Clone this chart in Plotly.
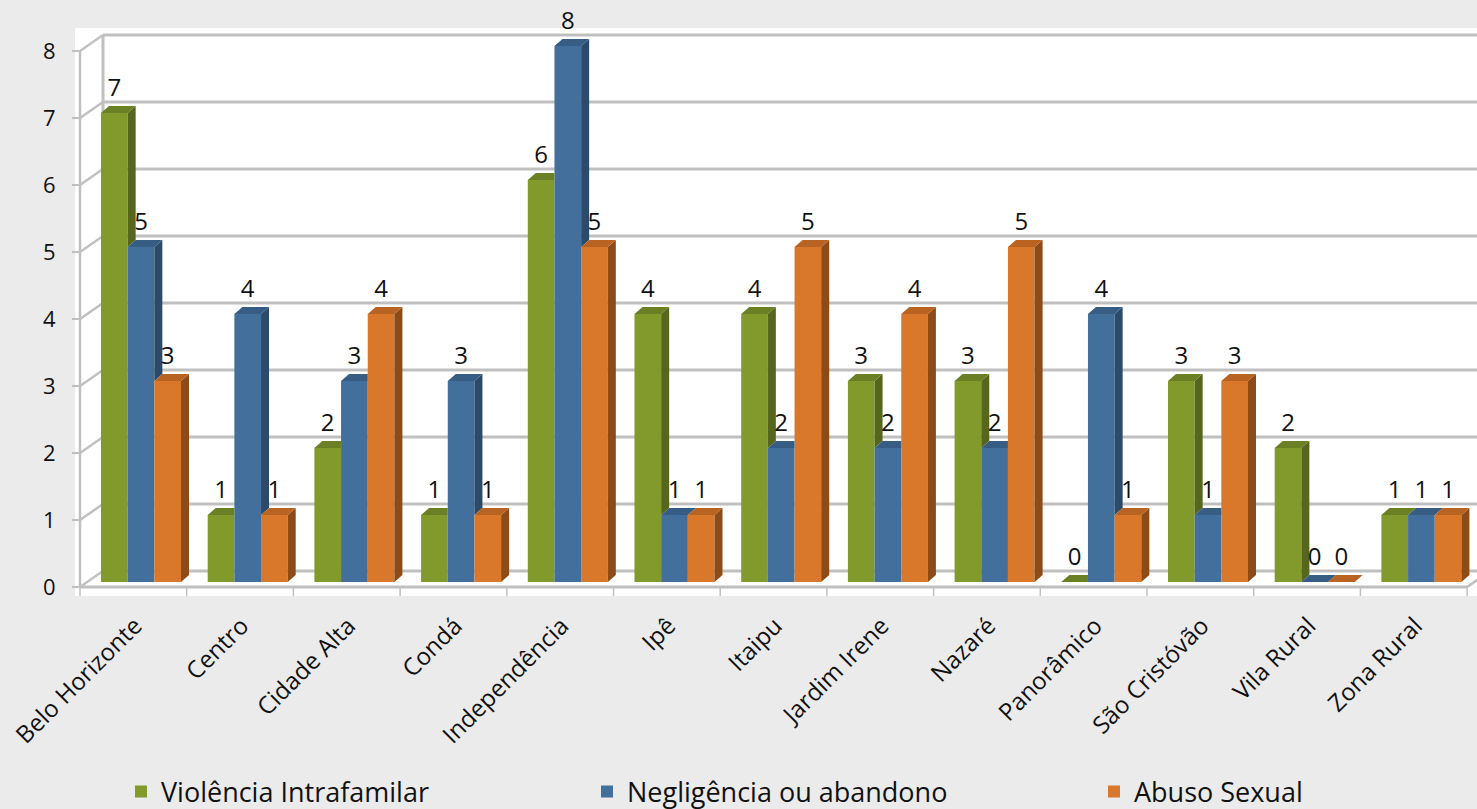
import plotly.graph_objects as go

# ---------------- data ----------------
categories = ["Belo Horizonte", "Centro", "Cidade Alta", "Condá", "Independência", "Ipê",
              "Itaipu", "Jardim Irene", "Nazaré", "Panorâmico", "São Cristóvão",
              "Vila Rural", "Zona Rural"]
violencia = [7, 1, 2, 1, 6, 4, 4, 3, 3, 0, 3, 2, 1]
negligencia = [5, 4, 3, 3, 8, 1, 2, 2, 2, 4, 1, 0, 1]
abuso = [3, 1, 4, 1, 5, 1, 5, 4, 5, 1, 3, 0, 1]
series_names = ["Violência Intrafamilar", "Negligência ou abandono", "Abuso Sexual"]
y_ticks = [0, 1, 2, 3, 4, 5, 6, 7, 8]

# ---------------- styling ----------------
front_colors = ["#829a2c", "#426f9c", "#d9782a"]
top_colors = ["#6b7f24", "#375d85", "#b86322"]
side_colors = ["#56661d", "#2c4a6a", "#8d4b18"]
FONT = "Open Sans"
FRAME = "#c0c0c0"
PAPER = "#ebebeb"

FIG_W, FIG_H = 1477, 809
ML, MR, MT, MB = 75, 0, 28, 213
PLOT_W = FIG_W - ML - MR
PLOT_H = FIG_H - MT - MB
PX_X, X0_PX = 106.7, 141.0   # pixels per category, pixel of first category (bar plane)
PX_Y, Y0_PX = 67.0, 582.0     # pixels per unit, pixel of value 0 (bar plane)
xr = [(ML - X0_PX) / PX_X, (FIG_W - MR - X0_PX) / PX_X]
yr = [-(MT + PLOT_H - Y0_PX) / PX_Y, (Y0_PX - MT) / PX_Y]

BW = 0.25
offsets = [-0.375, -0.125, 0.125]
DX, DY = 8 / PX_X, 7 / PX_Y           # bar depth
FX, FY = -61 / PX_X, -5 / PX_Y         # front plane offset
BX, BY = -38 / PX_X, 11 / PX_Y         # back wall offset
LABEL_SHIFT = -6 / PX_X                # category labels anchored on the front axis

series = [violencia, negligencia, abuso]
x_idx = list(range(len(categories)))

fig = go.Figure()

# front faces (real bars)
legends = ["legend", "legend2", "legend3"]
for s, vals in enumerate(series):
    fig.add_trace(go.Bar(
        x=x_idx, y=vals, width=BW, offset=offsets[s], name=series_names[s],
        marker=dict(color=front_colors[s], line=dict(width=0)),
        legend=legends[s], hovertemplate="%{y}<extra>" + series_names[s] + "</extra>",
    ))

# top and side faces derived from the same values
for s, vals in enumerate(series):
    nxt_vals = series[s + 1] if s < len(series) - 1 else None
    tx, ty, sx, sy = [], [], [], []
    for i, v in enumerate(vals):
        xl = i + offsets[s]
        xrr = xl + BW
        nxt = nxt_vals[i] if nxt_vals is not None else None
        if nxt is not None and nxt > v:
            tx += [xl, xrr, xrr, xl + DX, xl, None]
        else:
            tx += [xl, xrr, xrr + DX, xl + DX, xl, None]
        ty += [v, v, v + DY, v + DY, v, None]
        lo = 0 if nxt is None else nxt
        if v > lo:
            sx += [xrr, xrr, xrr + DX, xrr + DX, xrr, None]
            sy += [lo, v, v + DY, lo + DY, lo, None]
    fig.add_trace(go.Scatter(x=sx, y=sy, mode="lines", fill="toself", fillcolor=side_colors[s],
                             line=dict(width=0), showlegend=False, hoverinfo="skip"))
    fig.add_trace(go.Scatter(x=tx, y=ty, mode="lines", fill="toself", fillcolor=top_colors[s],
                             line=dict(width=0), showlegend=False, hoverinfo="skip"))

# data labels
for s, vals in enumerate(series):
    fig.add_trace(go.Scatter(
        x=[i + offsets[s] + BW / 2 for i in x_idx], y=[v + 0.17 for v in vals],
        text=[str(v) for v in vals], mode="text", textposition="top center",
        textfont=dict(family=FONT, size=24, color="#111111"),
        showlegend=False, hoverinfo="skip", cliponaxis=False))

# dummy trace to carry the front value axis
fig.add_trace(go.Scatter(x=[0], y=[0], yaxis="y2", mode="markers", marker=dict(opacity=0),
                         showlegend=False, hoverinfo="skip"))

# ---------------- 3D frame (walls, gridlines) ----------------
shapes = []
def ln(x0, y0, x1, y1, w=2.5):
    shapes.append(dict(type="line", xref="x", yref="y", x0=x0, y0=y0, x1=x1, y1=y1,
                       line=dict(color=FRAME, width=w), layer="below"))

ymax = max(y_ticks)
for v in y_ticks:
    ln(BX, v + BY, xr[1] + 1, v + BY, 3)
    ln(FX, v + FY, BX, v + BY)
ln(BX, BY, BX, ymax + BY, 3)
ln(FX, FY, FX, ymax + FY)
n = len(categories)
ln(FX, FY, FX + n, FY, 3)
ln(FX + n, FY, FX + n + (BX - FX), BY)
for k in range(n + 1):
    ln(FX + k, FY, FX + k, FY - 9 / PX_Y, 1.5)

s_front = -FY
fig.update_layout(
    width=FIG_W, height=FIG_H,
    margin=dict(l=ML, r=MR, t=MT, b=MB, pad=0),
    paper_bgcolor=PAPER, plot_bgcolor="#ffffff",
    barmode="overlay",
    font=dict(family=FONT, size=20, color="#111111"),
    shapes=shapes,
    xaxis=dict(range=xr, tickvals=[i + LABEL_SHIFT for i in x_idx], ticktext=categories,
               tickangle=-45, showgrid=False, zeroline=False, showline=False, ticks="",
               tickfont=dict(family=FONT, size=24, color="#111111"), ticklabelstandoff=10),
    yaxis=dict(range=yr, showgrid=False, zeroline=False, showticklabels=False, showline=False),
    yaxis2=dict(overlaying="y", anchor="free", position=(80 - ML) / PLOT_W, side="left",
                range=[yr[0] + s_front, yr[1] + s_front], tickvals=y_ticks,
                ticks="outside", ticklen=8, tickwidth=2, tickcolor=FRAME,
                showgrid=False, zeroline=False, showline=False,
                tickfont=dict(family=FONT, size=22, color="#111111"), ticklabelstandoff=12),
    showlegend=True,
)
leg_common = dict(orientation="h", xref="container", yref="container", yanchor="middle",
                  xanchor="left", bgcolor="rgba(0,0,0,0)",
                  font=dict(family=FONT, size=27, color="#111111"))
swatch_centers = [143, 609, 1116]
for name, cx in zip(legends, swatch_centers):
    fig.update_layout({name: dict(x=(cx - 22) / FIG_W, y=1 - 792 / FIG_H, **leg_common)})

fig.write_html("out.html",
               config={"displayModeBar": False},
               post_script="document.body.style.margin='0';"
                           "document.body.style.background='" + PAPER + "';")
